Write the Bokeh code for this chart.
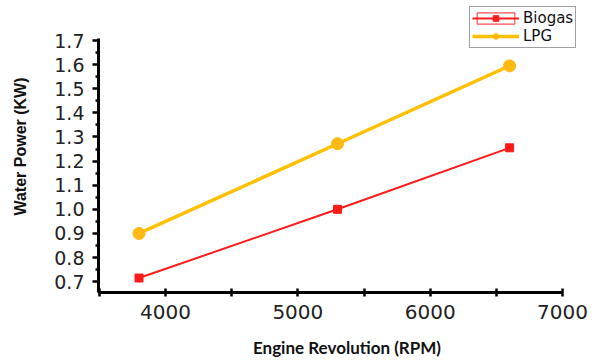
from bokeh.plotting import figure
from bokeh.models import FixedTicker, Range1d, Legend, LegendItem, PrintfTickFormatter
from bokeh.embed import file_html
from bokeh.resources import INLINE

rpm = [3800, 5300, 6600]
biogas = [0.715, 1.00, 1.255]
lpg = [0.90, 1.272, 1.595]
x_ticks = [4000, 5000, 6000, 7000]
x_minor = [3500, 4500, 5500, 6500]
y_ticks = [0.7, 0.8, 0.9, 1.0, 1.1, 1.2, 1.3, 1.4, 1.5, 1.6, 1.7]
y_minor = [0.65, 0.75, 0.85, 0.95, 1.05, 1.15, 1.25, 1.35, 1.45, 1.55, 1.65]

p = figure(width=595, height=360, output_backend="svg", toolbar_location=None,
           x_range=Range1d(3494, 7249), y_range=Range1d(0.655, 1.866),
           min_border_left=98, min_border_right=0, min_border_top=0, min_border_bottom=67)
p.outline_line_color = None
p.xgrid.visible = False
p.ygrid.visible = False

red = "#FF1A1A"
gold = "#FFC000"

b_box = p.rect(rpm, biogas, width=0, height=0, fill_color=None, line_color="#FF5050", line_width=1.2)
b_line = p.line(rpm, biogas, line_color=red, line_width=2)
b_mark = p.scatter(rpm, biogas, marker="square", size=8, fill_color=red, line_color=red)
l_line = p.line(rpm, lpg, line_color=gold, line_width=3.5)
l_mark = p.scatter(rpm, lpg, marker="circle", size=12, fill_color="#FDBA12", line_color="#FDBA12")

for ax in (p.xaxis[0], p.yaxis[0]):
    ax.axis_line_width = 3
    ax.axis_line_color = "black"
    ax.major_tick_line_width = 2.5
    ax.minor_tick_line_width = 2.5
    ax.major_tick_line_color = "black"
    ax.minor_tick_line_color = "black"
    ax.major_label_text_color = "#222222"
    ax.axis_label_text_color = "#111111"

p.xaxis.ticker = FixedTicker(ticks=x_ticks, minor_ticks=x_minor)
p.xaxis.bounds = (3494, 7000)
p.xaxis.major_tick_in = 4
p.xaxis.major_tick_out = 4
p.xaxis.minor_tick_in = 4
p.xaxis.minor_tick_out = 4
p.xaxis.major_label_text_font = "DejaVu Sans"
p.xaxis.major_label_text_font_size = "20px"
p.xaxis.major_label_standoff = 8
p.xaxis.axis_label = "Engine Revolution (RPM)"
p.xaxis.axis_label_text_font = "Lato"
p.xaxis.axis_label_text_font_style = "bold"
p.xaxis.axis_label_text_font_size = "17px"
p.xaxis.axis_label_standoff = 15

p.yaxis.ticker = FixedTicker(ticks=y_ticks, minor_ticks=y_minor)
p.yaxis.bounds = (0.655, 1.708)
p.yaxis.formatter = PrintfTickFormatter(format="%.1f")
p.yaxis.major_tick_in = 0
p.yaxis.major_tick_out = 6
p.yaxis.minor_tick_in = 0
p.yaxis.minor_tick_out = 3
p.yaxis.major_label_text_font = "DejaVu Sans"
p.yaxis.major_label_text_font_size = "19px"
p.yaxis.major_label_standoff = 8
p.yaxis.axis_label = "Water Power (KW)"
p.yaxis.axis_label_text_font = "Liberation Sans"
p.yaxis.axis_label_text_font_style = "bold"
p.yaxis.axis_label_text_font_size = "16px"
p.yaxis.axis_label_standoff = 22

legend = Legend(items=[
    LegendItem(label="Biogas", renderers=[b_box, b_line, b_mark]),
    LegendItem(label="LPG", renderers=[l_line, l_mark]),
], location=(371, 244))
legend.label_text_font = "DejaVu Sans"
legend.label_text_font_size = "15px"
legend.label_text_color = "#111111"
legend.label_height = 14
legend.glyph_height = 14
legend.glyph_width = 47
legend.label_standoff = 4
legend.spacing = 0
legend.padding = 2
legend.margin = 0
legend.border_line_color = "#444444"
legend.border_line_width = 1.5
legend.background_fill_alpha = 1
p.add_layout(legend, "center")

open("out.html", "w").write(file_html(p, INLINE))
